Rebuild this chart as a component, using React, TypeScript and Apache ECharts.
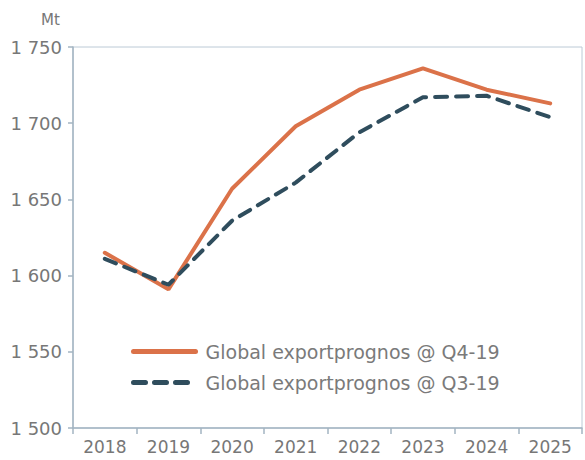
import React, { useEffect, useRef } from "react";
import * as echarts from "echarts";

const years = ["2018", "2019", "2020", "2021", "2022", "2023", "2024", "2025"];
const q4Values = [1615, 1591, 1657, 1698, 1722, 1736, 1722, 1713];
const q3Values = [1611, 1594, 1636, 1661, 1694, 1717, 1718, 1704];
const seriesNames = ["Global exportprognos @ Q4-19", "Global exportprognos @ Q3-19"];
const unitLabel = "Mt";

const FONT = "DejaVu Sans";

export default function App() {
  const ref = useRef<HTMLDivElement>(null);
  useEffect(() => {
    if (!ref.current) return;
    const chart = echarts.init(ref.current, undefined, { renderer: "svg" });
    chart.setOption({
      animation: false,
      grid: {
        left: 73,
        right: 3,
        top: 47,
        bottom: 32,
        show: true,
        borderColor: "#bccad6",
        borderWidth: 1,
      },
      graphic: [
        {
          type: "text",
          left: 41,
          top: 12,
          style: { text: unitLabel, fill: "#777", fontSize: 15, fontFamily: FONT },
        },
      ],
      legend: {
        orient: "vertical",
        left: 126,
        top: 337,
        itemWidth: 62,
        itemHeight: 14,
        itemGap: 12,
        itemStyle: { opacity: 0 },
        lineStyle: { width: 5, cap: "round" },
        textStyle: { color: "#7a7a7a", fontSize: 19, fontFamily: FONT, padding: [0, 0, 0, 5] },
        data: seriesNames,
      },
      xAxis: {
        type: "category",
        data: years,
        boundaryGap: true,
        axisLine: { lineStyle: { color: "#a3b4c2", width: 1.5 } },
        axisTick: { show: true, length: 6, lineStyle: { color: "#a3b4c2", width: 1.5 } },
        axisLabel: { color: "#777", fontSize: 17, fontFamily: FONT, margin: 10 },
        splitLine: { show: false },
      },
      yAxis: {
        type: "value",
        min: 1500,
        max: 1750,
        interval: 50,
        axisLine: { show: true, lineStyle: { color: "#a3b4c2", width: 1.5 } },
        axisTick: { show: true, length: 5, lineStyle: { color: "#a3b4c2", width: 1.5 } },
        axisLabel: {
          color: "#777",
          fontSize: 18,
          fontFamily: FONT,
          margin: 11,
          formatter: (v: number) => String(v).replace(/\B(?=(\d{3})+(?!\d))/g, " "),
        },
        splitLine: { show: false },
      },
      series: [
        {
          name: seriesNames[0],
          type: "line",
          data: q4Values,
          symbol: "none",
          lineStyle: { color: "#db7249", width: 4, cap: "round" },
          itemStyle: { color: "#db7249" },
        },
        {
          name: seriesNames[1],
          type: "line",
          data: q3Values,
          symbol: "none",
          lineStyle: { color: "#2f4d5d", width: 4, type: [12, 9], cap: "round" },
          itemStyle: { color: "#2f4d5d" },
        },
      ],
    });
    return () => chart.dispose();
  }, []);
  return <div ref={ref} style={{ width: 585, height: 460, position: "absolute", left: 0, top: 0 }} />;
}
